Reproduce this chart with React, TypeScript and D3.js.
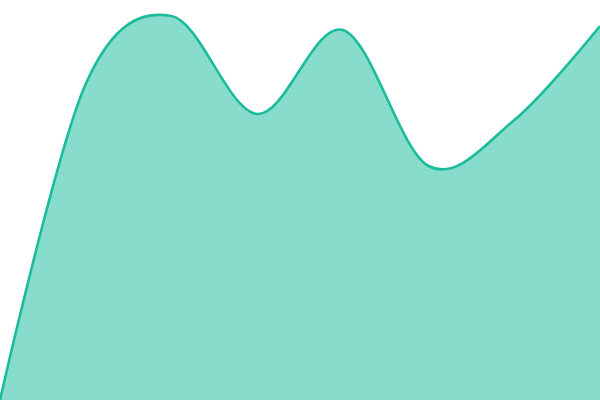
import React from "react";
import * as d3 from "d3";

const categories = ["A", "B", "C", "D", "E", "F", "G", "H"];
const values = [0, 79, 96, 71.5, 92.5, 58.5, 70, 93.5];

const W = 600;
const H = 400;

type P = { c: string; v: number };

export default function App() {
  const x = d3.scalePoint<string>().domain(categories).range([0, W]);
  const y = d3.scaleLinear().domain([0, 100]).range([H, 0]);
  const data: P[] = categories.map((c, i) => ({ c, v: values[i] }));
  const curve = d3.curveCardinal.tension(0);
  const area = d3
    .area<P>()
    .x((d) => x(d.c)!)
    .y0(H)
    .y1((d) => y(d.v))
    .curve(curve);
  const line = d3
    .line<P>()
    .x((d) => x(d.c)!)
    .y((d) => y(d.v))
    .curve(curve);
  return (
    <svg
      width={W}
      height={H}
      style={{ position: "fixed", left: 0, top: 0, display: "block" }}
    >
      <rect width={W} height={H} fill="#fff" />
      <path d={area(data)!} fill="#1abc9c" fillOpacity={0.52} />
      <path d={line(data)!} fill="none" stroke="#1abc9c" strokeWidth={2.6} />
    </svg>
  );
}
